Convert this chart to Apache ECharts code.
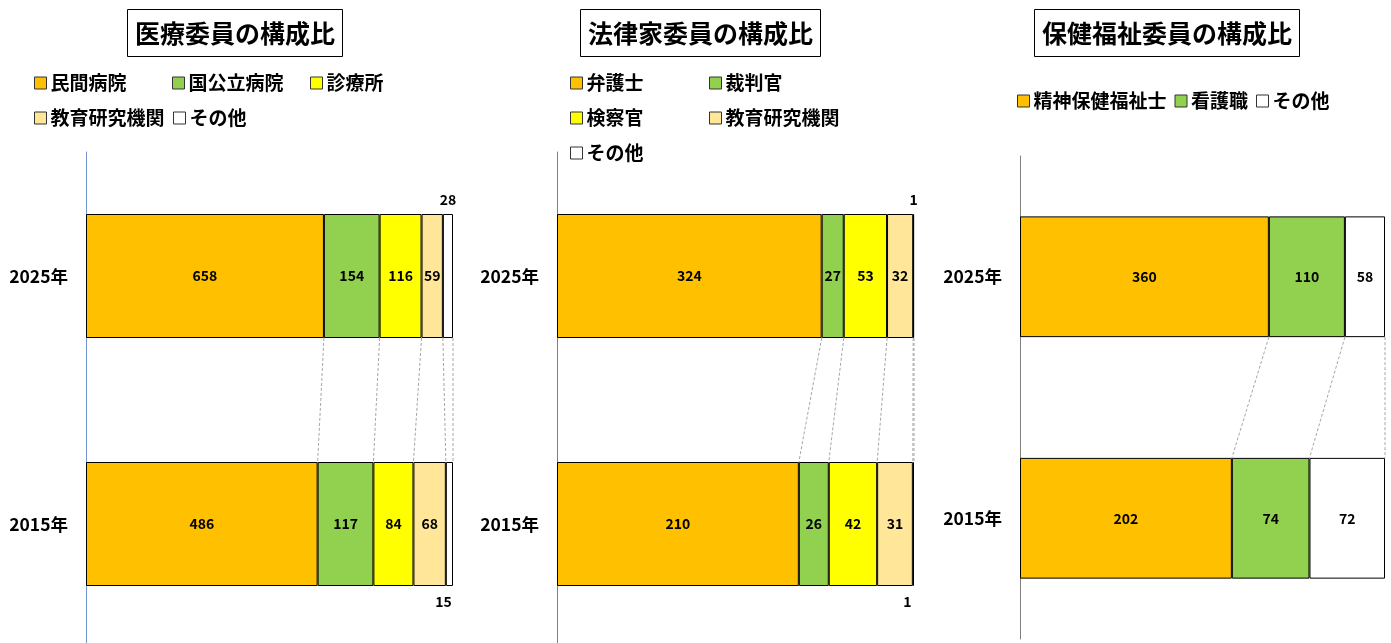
<!DOCTYPE html>
<html>
<head>
<meta charset="utf-8">
<script src="https://cdn.jsdelivr.net/npm/echarts@6/dist/echarts.min.js"></script>
<style>
  html, body { margin: 0; padding: 0; background: #fff; }
  #chart { width: 1391px; height: 643px; }
</style>
</head>
<body>
<div id="chart"></div>
<script>
// Row labels (top to bottom)
const years = ['2025年', '2015年'];

// 医療委員
const medCategories = ['民間病院', '国公立病院', '診療所', '教育研究機関', 'その他'];
const med2025 = [658, 154, 116, 59, 28];
const med2015 = [486, 117, 84, 68, 15];

// 法律家委員
const lawCategories = ['弁護士', '裁判官', '検察官', '教育研究機関', 'その他'];
const law2025 = [324, 27, 53, 32, 1];
const law2015 = [210, 26, 42, 31, 1];

// 保健福祉委員
const welCategories = ['精神保健福祉士', '看護職', 'その他'];
const wel2025 = [360, 110, 58];
const wel2015 = [202, 74, 72];

const titles = ['医療委員の構成比', '法律家委員の構成比', '保健福祉委員の構成比'];

const colorOf = {
  '民間病院': '#FFC000', '国公立病院': '#92D050', '診療所': '#FFFF00',
  '弁護士': '#FFC000', '裁判官': '#92D050', '検察官': '#FFFF00',
  '精神保健福祉士': '#FFC000', '看護職': '#92D050',
  '教育研究機関': '#FFE699', 'その他': '#FFFFFF'
};

const FONT = '"Noto Sans CJK JP", "Noto Sans", sans-serif';
const BAR_RATIO = 0.5;

const panels = [
  { cats: medCategories, a: med2025, b: med2015, grid: { left: 86, top: 152, width: 367, height: 496 }, axisColor: '#7090cf' },
  { cats: lawCategories, a: law2025, b: law2015, grid: { left: 557, top: 152, width: 357, height: 496 }, axisColor: '#7f7f7f' },
  { cats: welCategories, a: wel2025, b: wel2015, grid: { left: 1020, top: 156, width: 365, height: 483 }, axisColor: '#7f7f7f' }
];

const sum = arr => arr.reduce((s, v) => s + v, 0);

const grids = [], xAxes = [], yAxes = [], series = [];

panels.forEach((p, pi) => {
  grids.push(Object.assign({ containLabel: false, outerBoundsMode: 'none' }, p.grid));
  xAxes.push({ type: 'value', gridIndex: pi, min: 0, max: 100, show: false });
  yAxes.push({
    type: 'category', gridIndex: pi, data: years, inverse: true,
    axisLine: { show: true, lineStyle: { color: p.axisColor, width: 1 } },
    axisTick: { show: false },
    axisLabel: { color: '#000', fontSize: 17.5, fontWeight: 'bold', fontFamily: FONT, margin: 18 },
    splitLine: { show: false }
  });

  const totA = sum(p.a), totB = sum(p.b);
  p.cats.forEach((name, ci) => {
    const mk = (count, tot, rowIdx) => {
      const pct = count / tot * 100;
      const item = { value: pct, raw: count };
      if (pct < 4) {
        item.label = rowIdx === 0
          ? { position: 'top', distance: 7 }
          : { position: 'bottom', distance: 9, offset: [-6, 0] };
      }
      return item;
    };
    series.push({
      type: 'bar', name: name, stack: 'p' + pi,
      xAxisIndex: pi, yAxisIndex: pi,
      barWidth: (BAR_RATIO * 100) + '%',
      itemStyle: { color: colorOf[name], borderColor: '#000', borderWidth: 1 },
      label: {
        show: true, position: 'inside', color: '#000', fontSize: 14, fontWeight: 'bold', fontFamily: FONT,
        formatter: prm => prm.data.raw
      },
      emphasis: { disabled: true },
      data: [mk(p.a[ci], totA, 0), mk(p.b[ci], totB, 1)]
    });
  });

  // Dashed connectors between segment boundaries of the two rows
  const conn = [];
  let ca = 0, cb = 0;
  p.cats.forEach((_, ci) => {
    ca += p.a[ci]; cb += p.b[ci];
    conn.push([ca / totA * 100, cb / totB * 100, 0]);
  });
  series.push({
    type: 'custom', name: 'connector' + pi, xAxisIndex: pi, yAxisIndex: pi,
    silent: true, z: 1,
    encode: { x: [0, 1], y: 2 },
    data: conn,
    renderItem: (params, api) => {
      const top = api.coord([api.value(0), 0]);
      const bot = api.coord([api.value(1), 1]);
      const half = api.size([0, 1])[1] * BAR_RATIO / 2;
      return {
        type: 'line',
        shape: { x1: top[0], y1: top[1] + half, x2: bot[0], y2: bot[1] - half },
        style: { stroke: '#a6a6a6', lineWidth: 1, lineDash: [3, 2] }
      };
    }
  });
});

// Boxed titles
const titleLefts = [127, 580, 1034];
const titleOpts = titles.map((t, i) => ({
  text: t, left: titleLefts[i], top: 9,
  borderColor: '#000', borderWidth: 1, padding: [8, 8],
  textStyle: { fontSize: 25, fontWeight: 'bold', color: '#000', fontFamily: FONT, lineHeight: 32 }
}));

// Legends laid out in columns
const legendBase = {
  orient: 'horizontal', padding: 0, itemWidth: 12, itemHeight: 12, itemGap: 8, icon: 'rect',
  selectedMode: true,
  itemStyle: { borderColor: '#333', borderWidth: 1 },
  textStyle: { fontSize: 19, fontWeight: 'bold', color: '#000', fontFamily: FONT, lineHeight: 20, padding: [0, 0, 0, -1] }
};
const legendPlacements = [
  // 医療委員
  { names: ['民間病院'], left: 34, row: 83 },
  { names: ['国公立病院'], left: 172, row: 83 },
  { names: ['診療所'], left: 310, row: 83 },
  { names: ['教育研究機関'], left: 34, row: 118 },
  { names: ['その他'], left: 173, row: 118 },
  // 法律家委員
  { names: ['弁護士'], left: 570, row: 83 },
  { names: ['裁判官'], left: 709, row: 83 },
  { names: ['検察官'], left: 570, row: 118 },
  { names: ['教育研究機関'], left: 709, row: 118 },
  { names: ['その他'], left: 570, row: 153 },
  // 保健福祉委員
  { names: welCategories, left: 1017, row: 101 }
];
const legends = legendPlacements.map(lp => Object.assign({}, legendBase, {
  data: lp.names, left: lp.left, top: lp.row - 10
}));

const chart = echarts.init(document.getElementById('chart'), null, { renderer: 'canvas' });
chart.setOption({
  backgroundColor: '#fff',
  animation: false,
  title: titleOpts,
  legend: legends,
  grid: grids,
  xAxis: xAxes,
  yAxis: yAxes,
  series: series
});
</script>
</body>
</html>
